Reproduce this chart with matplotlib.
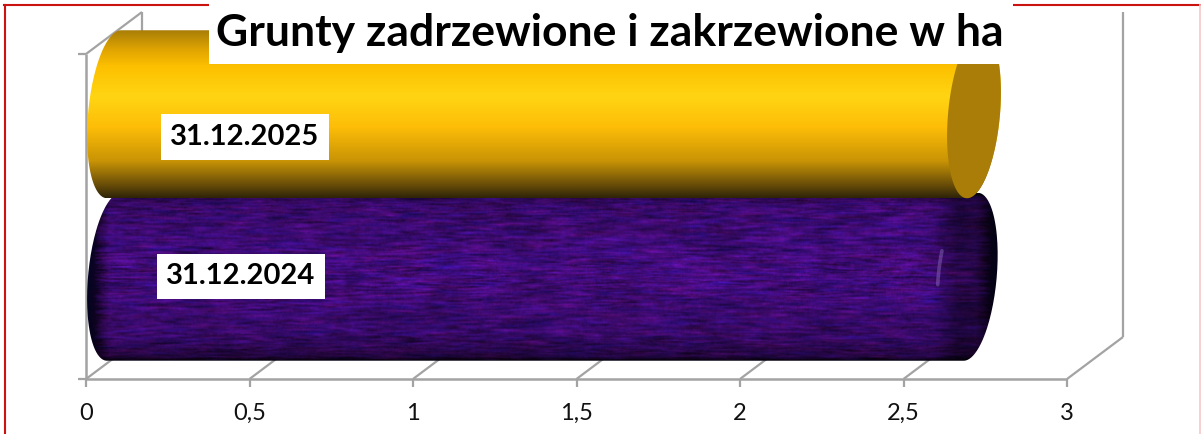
import numpy as np
import matplotlib
matplotlib.use('Agg')
import matplotlib.pyplot as plt
from matplotlib.colors import LinearSegmentedColormap
from matplotlib.patches import PathPatch, Polygon
from matplotlib.path import Path

title = 'Grunty zadrzewione i zakrzewione w ha'
categories = ['31.12.2024', '31.12.2025']
values = [2.62, 2.63]
x_ticks = [0, 0.5, 1, 1.5, 2, 2.5, 3]
x_tick_labels = ['0', '0,5', '1', '1,5', '2', '2,5', '3']

W, H = 1201, 434
GREY = '#a3a3a3'
RED = '#cc1111'
plt.rcParams['font.family'] = ['Lato', 'DejaVu Sans']

# plot box in pixels (front plane of the 3d box)
left, right, top, bottom = 86, 1067, 54, 379
fig = plt.figure(figsize=(W / 100, H / 100), dpi=100)
ax = fig.add_axes([left / W, 1 - bottom / H, (right - left) / W, (bottom - top) / H])
ax.axis('off')

ux = (right - left) / 3.0
uy = (bottom - top) / 2.0
# depth of the box, in data units
dx = 56 / ux
dy = 42 / uy


def line(xs, ys, z=1, lw=1.8, c=GREY):
    ax.plot(xs, ys, color=c, lw=lw, zorder=z, clip_on=False, solid_capstyle='butt')


def cyl_paths(val, i):
    # outline of a sheared cylinder lying along x, and its end cap
    x0 = dx / 2
    x1 = x0 + val
    yc = i + dy / 2
    a, s, b = 26 / ux, 7 / ux, 84 / uy
    t = np.linspace(0, 2 * np.pi, 181)
    cap = np.column_stack([x1 + a * np.cos(t) + s * np.sin(t), yc + b * np.sin(t)])
    t1 = np.linspace(np.pi / 2, -np.pi / 2, 90)
    t2 = np.linspace(3 * np.pi / 2, np.pi / 2, 90)
    rgt = np.column_stack([x1 + a * np.cos(t1) + s * np.sin(t1), yc + b * np.sin(t1)])
    lft = np.column_stack([x0 + a * np.cos(t2) + s * np.sin(t2), yc + b * np.sin(t2)])
    return np.vstack([rgt, lft]), cap, x0, x1, yc, a, s, b


def show_clipped(img, outline, z, **kw):
    xs, ys = outline[:, 0], outline[:, 1]
    im = ax.imshow(img, extent=[xs.min(), xs.max(), ys.min(), ys.max()], aspect='auto',
                   origin='upper', zorder=z, **kw)
    patch = PathPatch(Path(outline), transform=ax.transData, fc='none', ec='none')
    ax.add_patch(patch)
    im.set_clip_path(patch)
    im.set_clip_box(fig.bbox)


def smooth(n, kx, ky):
    n = np.apply_along_axis(lambda r: np.convolve(r, np.ones(kx) / kx, mode='same'), 1, n)
    n = np.apply_along_axis(lambda r: np.convolve(r, np.ones(ky) / ky, mode='same'), 0, n)
    return (n - n.mean()) / n.std()


def purple_texture(rows=170, cols=920):
    yy, xx = np.mgrid[0:rows, 0:cols]
    n = np.sin(xx * 12.9898 + yy * 78.233) * 43758.5453
    n = n - np.floor(n)
    m = np.sin(xx * 39.346 + yy * 11.135) * 24634.6345
    m = m - np.floor(m)
    # mottled streaks along the bar, blotches on top of them
    fine = smooth(n, 17, 2)
    blotch = smooth(m, 45, 9)
    red = smooth(n[::-1], 25, 3)
    pos = np.linspace(0, 1, rows)[:, None]
    shade = np.interp(pos, [0, 0.08, 0.45, 0.85, 1], [0.6, 0.85, 1.0, 0.82, 0.45])
    tex = np.clip(1 + 0.16 * fine + 0.2 * blotch, 0.35, 1.6) * shade
    # the far end goes dark, without a sharp edge
    u = np.linspace(0, 1, cols)[None, :]
    tex = tex * np.interp(u, [0, 0.03, 0.93, 0.955, 1], [0.85, 1, 1, 0.6, 0.55])
    rgb = np.dstack([tex * (0.24 + 0.035 * red), tex * 0.045, tex * 0.46])
    return np.clip(rgb, 0, 1)


# walls of the box
line([0, 0], [-0.5, 1.5], z=1)
for t in x_ticks:
    line([t, t + dx], [-0.5, -0.5 + dy], z=1, lw=1.6)
    line([t + dx, t + dx], [-0.5 + dy, 1.5 + dy], z=1, lw=1.6)
    line([t, t], [-0.5, -0.5 - 8 / uy], z=1, lw=1.6)
line([0, 3], [-0.5, -0.5], z=1)
line([-8 / ux, 0], [-0.5, -0.5], z=1, lw=1.6)
line([-8 / ux, 0], [1.5, 1.5], z=1, lw=1.6)
line([0, dx], [1.5, 1.5 + dy], z=1, lw=1.6)

# 2024 bar, textured purple
body, cap, x0, x1, yc, a, s, b = cyl_paths(values[0], 0)
show_clipped(purple_texture(), body, 3)
t = np.linspace(np.pi * 0.9, np.pi * 1.03, 30)
ax.plot(x1 + 1.25 * a * np.cos(t) + s * np.sin(t), yc + b * np.sin(t), color='#a483d8', lw=2.6,
        alpha=0.38, zorder=5, solid_capstyle='round', clip_on=False)

# 2025 bar, gold gradient
body, cap, x0, x1, yc, a, s, b = cyl_paths(values[1], 1)
gold = LinearSegmentedColormap.from_list('gold', [
    (0.0, '#a67c08'), (0.12, '#e0a402'), (0.22, '#fdc000'), (0.4, '#ffd513'),
    (0.58, '#fdbd08'), (0.78, '#c99405'), (0.92, '#6b4f08'), (1.0, '#2f2408')])
grad = np.linspace(0, 1, 256)[:, None]
show_clipped(grad, body, 6, cmap=gold, vmin=0, vmax=1)
ax.add_patch(Polygon(cap, closed=True, fc='#a97d08', ec='none', zorder=7, clip_on=False))

ax.set_xlim(0, 3)
ax.set_ylim(-0.5, 1.5)

# x tick labels
for t, lab in zip(x_ticks, x_tick_labels):
    ax.text(t, -0.5 - 34 / uy, lab, ha='center', va='center', fontsize=17, color='#111111', zorder=10,
            clip_on=False)

# category labels sit in white boxes on the bars
label_x = [(241 - left) / ux, (245 - left) / ux]
label_y = [(bottom - 276.5) / uy - 0.5, (bottom - 137) / uy - 0.5]
for lx, ly, lab in zip(label_x, label_y, categories):
    ax.text(lx, ly, lab, ha='center', va='center', fontsize=21, fontweight='bold', color='black',
            zorder=12, clip_on=False, bbox=dict(fc='white', ec='none', boxstyle='square,pad=0.33'))

# frame around the picture, interrupted by the title
fig.add_artist(plt.Line2D([4.5 / W, 4.5 / W], [0, 1 - 5 / H], color=RED, lw=1.5))
fig.add_artist(plt.Line2D([4 / W, 209 / W], [1 - 5 / H, 1 - 5 / H], color=RED, lw=1.5))
fig.add_artist(plt.Line2D([1013 / W, 1 - 1 / W], [1 - 5 / H, 1 - 5 / H], color=RED, lw=1.5))
fig.add_artist(plt.Line2D([1 - 1 / W, 1 - 1 / W], [0, 1 - 5 / H], color='#f6c8c8', lw=1.2))

fig.patches.append(plt.Rectangle((209 / W, 1 - 64 / H), 804 / W, 64 / H, transform=fig.transFigure,
                                 fc='white', ec='none', zorder=20))
fig.text(610 / W, 1 - 33 / H, title, ha='center', va='center', fontsize=32, fontweight='bold',
         color='black', zorder=21)

fig.savefig('out.png', dpi=100)
